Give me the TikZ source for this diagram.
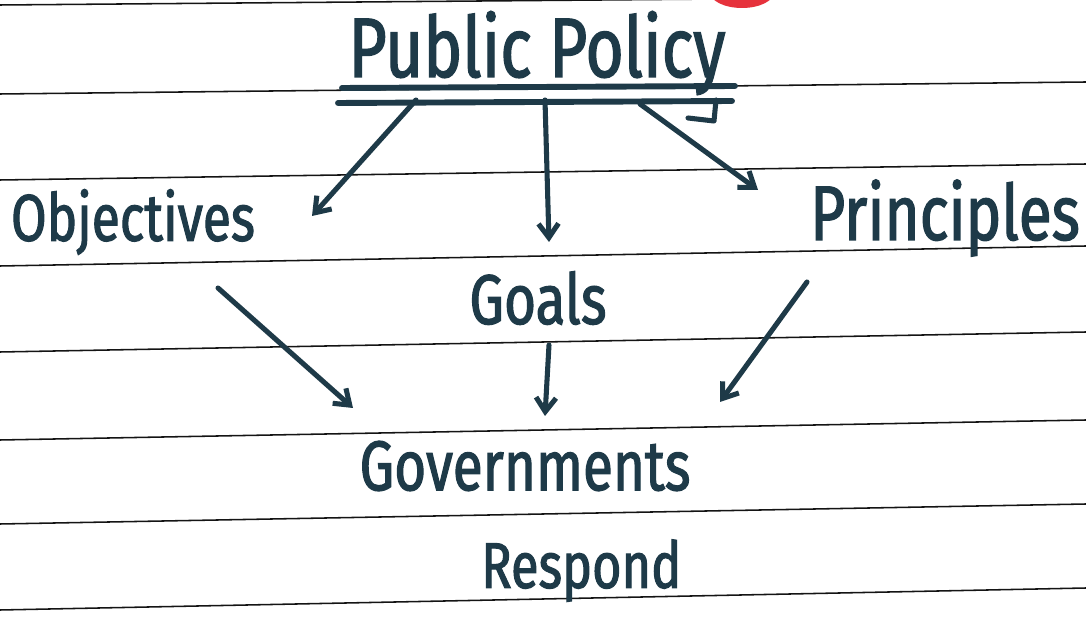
\documentclass[tikz,border=0pt]{standalone}
\usepackage{fontspec}
\setmainfont{Fira Sans}[FakeStretch=0.78, FakeBold=1.6]
\usetikzlibrary{positioning,arrows.meta}
\definecolor{inkcolor}{RGB}{30,58,72}
\definecolor{rulecolor}{RGB}{20,20,20}
\definecolor{markcolor}{RGB}{230,50,60}

\begin{document}
\begin{tikzpicture}[%
    x=0.025cm, y=-0.025cm,        % one unit = one pixel of the page
    >={Straight Barb[length=3.5mm,width=5mm]},
    ]
\tikzset{
  rule/.style={draw=rulecolor, line width=1.1pt},
  ink/.style={draw=inkcolor, line width=3.6pt, line cap=round, line join=round},
  word/.style={text=inkcolor, inner sep=0pt, font=\fontsize{50}{54}\selectfont},
  title/.style={word, font=\fontsize{60}{64}\selectfont},
}

\useasboundingbox (0,0) rectangle (1086,628);
\fill[white] (0,0) rectangle (1086,628);

% ruled paper
\begin{scope}
\clip (0,0) rectangle (1086,628);
\fill[markcolor] (742,-8) ellipse [x radius=32, y radius=16];
\draw[rule] (0,5) -- (720,-1);
\foreach \l/\r in {94/82, 180/164, 266/246, 352/332, 440/420, 524/504, 610/588}
  \draw[rule] (0,\l) -- (1086,\r);
\end{scope}

\node [title] (pol) at (537,53) {Public Policy};
\node [word, font=\fontsize{47}{50}\selectfont] (obj) at (133,222) {Objectives};
\node [word] (goal) at (538,298) {Goals};
\node [word, font=\fontsize{55}{58}\selectfont] (prin) at (945,218) {Principles};
\node [word] (gov) at (525,466) {Governments};
\node [word, font=\fontsize{46}{50}\selectfont, below=34pt of gov.south, xshift=40] (resp) {Respond};

% double underline
\draw [ink, line width=4.2pt] (342,88) -- (735,86);
\draw [ink, line width=4.2pt] (338,103) -- (732,101);
\draw [ink] (716,100) -- (714,121) -- (688,118);

\coordinate (u1) at (416,100);
\coordinate (u2) at (545,100);
\coordinate (u3) at (640,104);
\coordinate (e1) at (312,216);
\coordinate (e2) at (549,242);
\coordinate (e3) at (758,190);

\draw [ink,->] (u1) -- (e1);
\draw [ink,->] (u2) -- (e2);
\draw [ink,->] (u3) -- (e3);

\coordinate (s1) at (218,288);
\coordinate (s2) at (549,345);
\coordinate (s3) at (807,282);
\coordinate (g1) at (353,408);
\coordinate (g2) at (545,416);
\coordinate (g3) at (720,402);

\draw [ink,->] (s1) -- (g1);
\draw [ink,->] (s2) -- (g2);
\draw [ink,->] (s3) -- (g3);

\end{tikzpicture}
\end{document}
